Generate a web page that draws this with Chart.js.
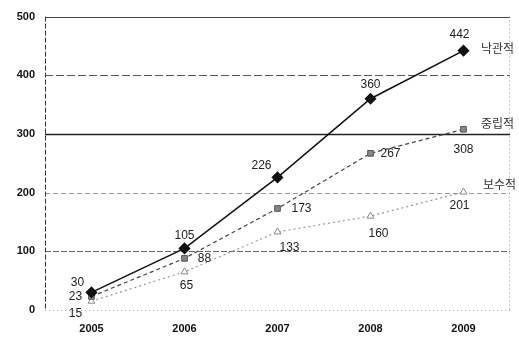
<!DOCTYPE html>
<html>
<head>
<meta charset="utf-8">
<script src="https://cdn.jsdelivr.net/npm/chart.js@4/dist/chart.umd.min.js"></script>
<style>
  html, body { margin: 0; padding: 0; background: #fff; }
  #wrap { width: 519px; height: 340px; }
</style>
</head>
<body>
<div id="wrap"><canvas id="c" width="519" height="340"></canvas></div>
<script>
// Scenario forecasts, 2005-2009
const years = ['2005', '2006', '2007', '2008', '2009'];
const optimistic = [30, 105, 226, 360, 442];
const neutral = [23, 88, 173, 267, 308];
const conservative = [15, 65, 133, 160, 201];
const seriesNames = ['낙관적', '중립적', '보수적'];
const yTicks = [0, 100, 200, 300, 400, 500];

// Where each value label sits relative to its point: [dx, dy] per point
const labelOffsets = [
  [[-14, -10], [0, -13], [-16, -12], [0, -14], [-4, -16]],
  [[-16, 0], [20, 0], [24, 0], [20, 0], [0, 20]],
  [[-16, 12], [2, 14], [12, 16], [8, 18], [-4, 14]]
];
// Series name next to the last point: [dx, dy]
const nameOffsets = [[34, -2], [34, -6], [36, -8]];

const lineStyles = {
  optimistic: { color: '#111', dash: [] },
  neutral: { color: '#444', dash: [4, 3] },
  conservative: { color: '#999', dash: [2, 3] }
};

// Horizontal reference lines drawn from the y scale's ticks
const gridPlugin = {
  id: 'gridLines',
  beforeDatasetsDraw(chart) {
    const { ctx, chartArea: a, scales: { y } } = chart;
    const styles = {
      0: { c: '#aaa', d: [1, 3], w: 1 },
      100: { c: '#666', d: [6, 2], w: 1 },
      200: { c: '#999', d: [5, 3], w: 1 },
      300: { c: '#222', d: [], w: 1.3 },
      400: { c: '#555', d: [8, 3], w: 1 },
      500: { c: '#444', d: [], w: 1 }
    };
    ctx.save();
    yTicks.forEach(v => {
      const s = styles[v];
      const py = Math.round(y.getPixelForValue(v)) + 0.5;
      ctx.strokeStyle = s.c;
      ctx.lineWidth = s.w;
      ctx.setLineDash(s.d);
      ctx.beginPath();
      ctx.moveTo(a.left, py);
      ctx.lineTo(a.right, py);
      ctx.stroke();
    });
    // left axis (dashed dark) and right edge (dotted light)
    ctx.lineWidth = 1;
    ctx.strokeStyle = '#333';
    ctx.setLineDash([5, 2]);
    ctx.beginPath();
    ctx.moveTo(a.left + 0.5, a.top);
    ctx.lineTo(a.left + 0.5, a.bottom);
    ctx.stroke();
    ctx.strokeStyle = '#999';
    ctx.setLineDash([1, 3]);
    ctx.beginPath();
    ctx.moveTo(a.right - 0.5, a.top);
    ctx.lineTo(a.right - 0.5, a.bottom);
    ctx.stroke();
    ctx.restore();
  }
};

// Value labels and series names
const labelPlugin = {
  id: 'valueLabels',
  afterDatasetsDraw(chart) {
    const { ctx } = chart;
    ctx.save();
    ctx.textAlign = 'center';
    ctx.textBaseline = 'middle';
    chart.data.datasets.forEach((ds, i) => {
      const meta = chart.getDatasetMeta(i);
      ctx.font = '12px "Liberation Sans", Arial, sans-serif';
      ctx.fillStyle = '#222';
      meta.data.forEach((pt, j) => {
        const [dx, dy] = labelOffsets[i][j];
        ctx.fillText(String(ds.data[j]), pt.x + dx, pt.y + dy);
      });
      const last = meta.data[meta.data.length - 1];
      const [nx, ny] = nameOffsets[i];
      ctx.font = '12px "Noto Sans CJK KR", sans-serif';
      ctx.fillStyle = '#333';
      ctx.fillText(seriesNames[i], last.x + nx, last.y + ny);
    });
    ctx.restore();
  }
};

new Chart(document.getElementById('c'), {
  type: 'line',
  data: {
    labels: years,
    datasets: [
      {
        label: seriesNames[0],
        data: optimistic,
        borderColor: lineStyles.optimistic.color,
        borderWidth: 1.5,
        borderDash: lineStyles.optimistic.dash,
        pointStyle: 'rectRot',
        pointRadius: 5,
        pointBackgroundColor: '#111',
        pointBorderColor: '#111',
        tension: 0
      },
      {
        label: seriesNames[1],
        data: neutral,
        borderColor: lineStyles.neutral.color,
        borderWidth: 1.2,
        borderDash: lineStyles.neutral.dash,
        pointStyle: 'rect',
        pointRadius: 4,
        pointBackgroundColor: '#888',
        pointBorderColor: '#555',
        pointBorderWidth: 1,
        tension: 0
      },
      {
        label: seriesNames[2],
        data: conservative,
        borderColor: lineStyles.conservative.color,
        borderWidth: 1.2,
        borderDash: lineStyles.conservative.dash,
        pointStyle: 'triangle',
        pointRadius: 4,
        pointBackgroundColor: '#fff',
        pointBorderColor: '#888',
        pointBorderWidth: 1,
        tension: 0
      }
    ]
  },
  options: {
    responsive: false,
    animation: false,
    devicePixelRatio: 1,
    layout: { padding: { top: 12, right: 9, left: 0, bottom: 0 } },
    plugins: { legend: { display: false }, tooltip: { enabled: false } },
    scales: {
      x: {
        offset: true,
        grid: { display: false, drawTicks: false },
        border: { display: false },
        ticks: {
          padding: 12,
          color: '#111',
          font: { family: '"Liberation Sans", Arial, sans-serif', size: 11, weight: 'bold' }
        },
        afterFit(scale) { scale.height = 30; }
      },
      y: {
        min: 0,
        max: 500,
        afterBuildTicks(scale) { scale.ticks = yTicks.map(v => ({ value: v })); },
        grid: { display: false, drawTicks: false },
        border: { display: false },
        ticks: {
          padding: 10,
          color: '#111',
          font: { family: '"Liberation Sans", Arial, sans-serif', size: 11, weight: 'bold' }
        },
        afterFit(scale) { scale.width = 45; }
      }
    }
  },
  plugins: [gridPlugin, labelPlugin]
});
</script>
</body>
</html>
